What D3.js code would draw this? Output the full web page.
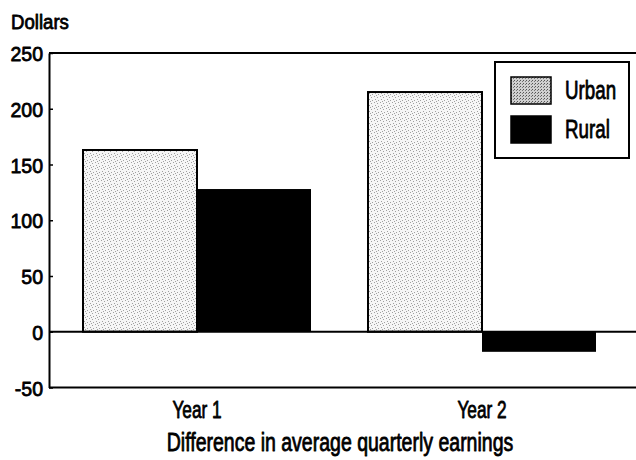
<!DOCTYPE html>
<html><head><meta charset="utf-8">
<script src="https://cdn.jsdelivr.net/npm/d3@7"></script>
<style>body{margin:0;background:#fff}svg{display:block}</style>
</head><body>
<svg id="c" width="636" height="460"></svg>
<script>
const categories = ["Year 1", "Year 2"];
const seriesNames = ["Urban", "Rural"];
const urbanValues = [163, 215];
const ruralValues = [128, -18];
const yTicks = [-50, 0, 50, 100, 150, 200, 250];
const yLabel = "Dollars";
const xTitle = "Difference in average quarterly earnings";

(function () {
const mLeft = 49, mRight = 640, mTop = 53, mBottom = 387.5;
const svg = d3.select("#c");
const font = "'Liberation Sans', Arial, sans-serif";

function condense(sel, factor) {
  sel.each(function () {
    const n = this.getComputedTextLength();
    d3.select(this).attr("textLength", n * factor).attr("lengthAdjust", "spacingAndGlyphs");
  });
}
function styleText(sel, size) {
  sel.attr("font-family", font).attr("font-size", size).attr("fill", "#000")
    .attr("stroke", "#000").attr("stroke-width", 0.8).attr("stroke-linejoin", "round");
}

// stipple pattern for urban
const defs = svg.append("defs");
const pat = defs.append("pattern").attr("id", "stip").attr("patternUnits", "userSpaceOnUse")
  .attr("width", 6).attr("height", 6);
pat.append("rect").attr("width", 6).attr("height", 6).attr("fill", "#f6f6f6");
[[0,0],[3,1],[1,3],[4,4],[2,5]].forEach(([x,y]) =>
  pat.append("rect").attr("x", x).attr("y", y).attr("width", 1).attr("height", 1).attr("fill", "#a0a0a0"));
const pat2 = defs.append("pattern").attr("id", "stipDense").attr("patternUnits", "userSpaceOnUse")
  .attr("width", 3).attr("height", 3);
pat2.append("rect").attr("width", 3).attr("height", 3).attr("fill", "#d0d0d0");
pat2.append("rect").attr("x", 0).attr("y", 0).attr("width", 1).attr("height", 1).attr("fill", "#555");
pat2.append("rect").attr("x", 2).attr("y", 1).attr("width", 1).attr("height", 1).attr("fill", "#777");

const y = d3.scaleLinear().domain([-50, 250]).range([mBottom, mTop]);
const x0 = d3.scaleBand().domain(categories).range([26, 653]).paddingInner(0.2).paddingOuter(0.2);
const x1 = d3.scaleBand().domain(seriesNames).range([0, x0.bandwidth()]);

const data = categories.map((c, i) => ({cat: c, vals: [
  {s: "Urban", v: urbanValues[i]}, {s: "Rural", v: ruralValues[i]}]}));

const g = svg.append("g");
const groups = g.selectAll("g.cat").data(data).join("g")
  .attr("transform", d => `translate(${x0(d.cat)},0)`);
groups.selectAll("rect.bar").data(d => d.vals).join("rect")
  .attr("class", "bar")
  .attr("x", d => x1(d.s))
  .attr("width", x1.bandwidth())
  .attr("y", d => y(Math.max(0, d.v)))
  .attr("height", d => Math.abs(y(d.v) - y(0)))
  .attr("fill", d => d.s === "Urban" ? "url(#stip)" : "#000")
  .attr("stroke", d => d.s === "Urban" ? "#000" : "none")
  .attr("stroke-width", 2);

// frame lines
[250, -50, 0].forEach(v => svg.append("line").attr("x1", mLeft).attr("x2", mRight)
  .attr("y1", y(v)).attr("y2", y(v)).attr("stroke", "#000").attr("stroke-width", 2));

// y axis
const yAxis = d3.axisLeft(y).tickValues(yTicks).tickFormat(d => String(d))
  .tickSizeInner(-4).tickSizeOuter(0).tickPadding(6);
const ya = svg.append("g").attr("transform", `translate(${mLeft},0)`).call(yAxis);
ya.select(".domain").attr("stroke-width", 2);
ya.selectAll(".tick line").attr("stroke-width", 1.5);
const yt = ya.selectAll(".tick text").attr("dy", "0.36em");
styleText(yt, 21);
condense(yt, 0.93);

// x labels
const xAxis = d3.axisBottom(x0).tickSize(0).tickPadding(0);
const xa = svg.append("g").attr("transform", `translate(0,0)`).call(xAxis);
xa.select(".domain").remove();
const xt = xa.selectAll(".tick text").attr("y", 418).attr("dy", 0);
styleText(xt, 23);
condense(xt, 0.75);

const yl = svg.append("text").attr("x", 11).attr("y", 29).text(yLabel);
styleText(yl, 20);
condense(yl, 0.93);
const tt = svg.append("text").attr("x", 340).attr("y", 451).attr("text-anchor", "middle").text(xTitle);
styleText(tt, 25);
condense(tt, 0.78);

// legend
const lg = svg.append("g");
lg.append("rect").attr("x", 495).attr("y", 62).attr("width", 134).attr("height", 96)
  .attr("fill", "#fff").attr("stroke", "#000").attr("stroke-width", 2);
const li = lg.selectAll("g.li").data(seriesNames).join("g")
  .attr("transform", (d, i) => `translate(511,${77 + i * 39})`);
li.append("rect").attr("width", 40).attr("height", 27)
  .attr("fill", d => d === "Urban" ? "url(#stipDense)" : "#000")
  .attr("stroke", "#000").attr("stroke-width", 1.5);
const lt = li.append("text").attr("x", 54).attr("y", 22).text(d => d);
styleText(lt, 25);
condense(lt, 0.75);
})();
</script>
</body></html>
